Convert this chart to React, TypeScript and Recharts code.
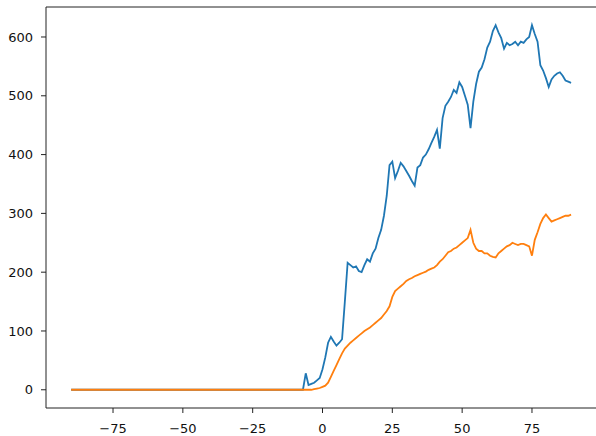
import React from "react";
import { LineChart, Line, XAxis, YAxis, ReferenceLine } from "recharts";

// Day offsets: one flat stretch at zero, then daily values
const days = [
  -90, -7,
  -6, -5, -4, -3, -2, -1,
  0, 1, 2, 3, 4, 5, 6, 7, 8, 9,
  10, 11, 12, 13, 14, 15, 16, 17, 18, 19,
  20, 21, 22, 23, 24, 25, 26, 27, 28, 29,
  30, 31, 32, 33, 34, 35, 36, 37, 38, 39,
  40, 41, 42, 43, 44, 45, 46, 47, 48, 49,
  50, 51, 52, 53, 54, 55, 56, 57, 58, 59,
  60, 61, 62, 63, 64, 65, 66, 67, 68, 69,
  70, 71, 72, 73, 74, 75, 76, 77, 78, 79,
  80, 81, 82, 83, 84, 85, 86, 87, 88, 89,
];

const blueSeries = [
  0, 0,
  28, 8, 10, 12, 16, 20,
  35, 55, 80, 90, 82, 75, 80, 86, 150, 216,
  212, 208, 210, 202, 200, 212, 222, 218, 232, 240,
  258, 272, 296, 330, 382, 388, 360, 372, 386, 380,
  372, 364, 355, 347, 378, 382, 395, 400, 409, 420,
  430, 442, 410, 462, 483, 490, 498, 510, 505, 523,
  515, 500, 485, 445, 490, 520, 541, 548, 562, 582,
  592, 610, 620, 608, 598, 580, 590, 586, 588, 592,
  586, 592, 590, 596, 600, 620, 605, 592, 552, 543,
  530, 515, 528, 534, 538, 540, 534, 526, 524, 522,
];

const orangeSeries = [
  0, 0,
  0, 0, 0, 1, 2, 3,
  5, 7, 12, 22, 32, 42, 52, 62, 70, 75,
  80, 84, 88, 92, 96, 100, 103, 106, 110, 114,
  118, 122, 128, 134, 142, 158, 168, 172, 176, 180,
  185, 188, 190, 193, 195, 197, 199, 201, 204, 206,
  208, 212, 218, 222, 228, 234, 236, 240, 242, 246,
  250, 254, 258, 272, 250, 240, 236, 236, 232, 232,
  228, 226, 225, 232, 236, 240, 244, 246, 250, 248,
  246, 248, 248, 246, 244, 228, 255, 268, 282, 292,
  298, 292, 286, 288, 290, 292, 294, 296, 296, 298,
];

const xTicks = [-75, -50, -25, 0, 25, 50, 75];
const yTicks = [0, 100, 200, 300, 400, 500, 600];
const xDomain = [-99, 99];
const yDomain = [-31, 651];

const rows = days.map((d, i) => ({ day: d, blue: blueSeries[i], orange: orangeSeries[i] }));

const fmt = (v: number) => String(v).replace("-", "\u2212");

const tickStyle = { fill: "#111", fontSize: 13, fontFamily: "DejaVu Sans" };
const spine = { stroke: "#222", strokeWidth: 1 };

export default function App() {
  return (
    <div
      style={{
        position: "absolute",
        left: 0,
        top: 0,
        width: 596,
        height: 436,
        overflow: "hidden",
        background: "#fff",
      }}
    >
      <LineChart
        width={600}
        height={436}
        data={rows}
        margin={{ top: 7, right: 1, left: 0, bottom: 0 }}
      >
        <XAxis
          dataKey="day"
          type="number"
          domain={xDomain}
          ticks={xTicks}
          tickFormatter={fmt}
          tick={tickStyle}
          tickSize={5}
          tickMargin={11}
          axisLine={spine}
          tickLine={spine}
          height={28}
          allowDataOverflow
        />
        <YAxis
          type="number"
          domain={yDomain}
          ticks={yTicks}
          tick={tickStyle}
          tickSize={5}
          tickMargin={8}
          axisLine={spine}
          tickLine={spine}
          width={46}
          allowDataOverflow
        />
        {/* top frame edge */}
        <ReferenceLine y={yDomain[1]} stroke="#222" strokeWidth={1} />
        <Line
          type="linear"
          dataKey="blue"
          stroke="#1f77b4"
          strokeWidth={1.8}
          dot={false}
          isAnimationActive={false}
        />
        <Line
          type="linear"
          dataKey="orange"
          stroke="#ff7f0e"
          strokeWidth={1.8}
          dot={false}
          isAnimationActive={false}
        />
      </LineChart>
    </div>
  );
}
